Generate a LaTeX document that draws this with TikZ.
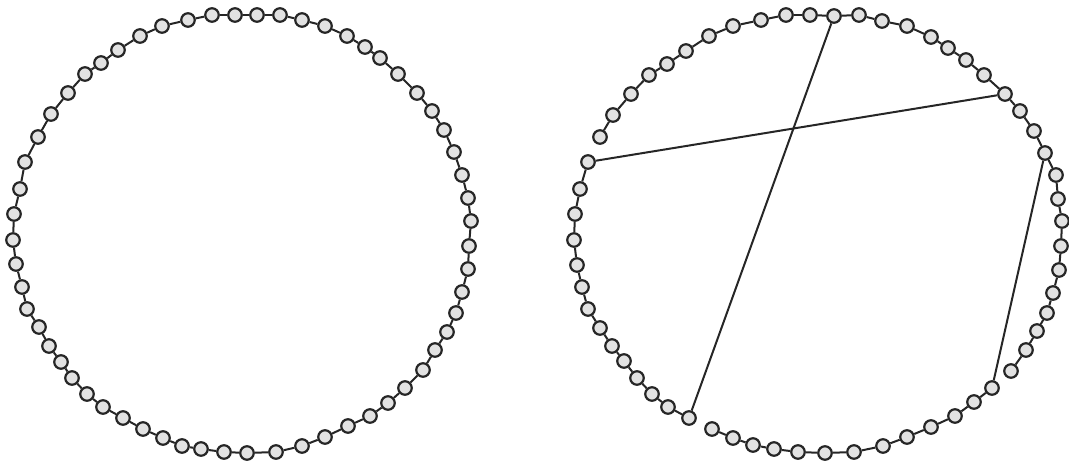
\documentclass[tikz,border=0pt]{standalone}
\usepackage{tikz}
\definecolor{Ink}{HTML}{262626}
\definecolor{Bead}{HTML}{E2E2E2}
\tikzset{
  bead/.style={circle,draw=Ink,fill=Bead,line width=2.2pt,minimum size=13.5pt,inner sep=0pt},
  link/.style={draw=Ink,line width=2pt},
  chord/.style={draw=Ink,line width=2pt}
}

\begin{document}
\begin{tikzpicture}[x=1pt,y=-1pt]
  \useasboundingbox (0,0) rectangle (1069,464);

  % left ring: closed chain of beads
  \foreach \x/\y [count=\i] in {212/15,235/15,257/15,280/15,302/20,325/26,347/36,365/47,380/58,398/74,
      417/93,432/111,444/130,454/152,462/175,468/198,471/221,469/246,468/269,462/292,
      456/313,447/332,435/350,423/370,405/388,388/403,370/416,348/426,325/437,302/446,
      276/452,247/453,224/452,201/449,182/446,163/438,143/429,123/418,103/407,87/394,
      72/378,61/362,49/346,39/327,27/309,22/287,16/264,13/240,14/214,20/189,
      25/162,38/137,51/114,68/93,85/74,101/63,118/50,140/36,162/26,188/20}
    \node[bead] (l\i) at (\x,\y) {};
  \foreach \i [evaluate=\i as \j using {int(mod(\i,60)+1)}] in {1,...,60}
    \draw[link] (l\i) -- (l\j);

  % right ring: same chain, cut in three places and reconnected
  \foreach \x/\y [count=\i] in {786/15,810/15,834/16,859/15,882/21,907/26,931/37,948/48,966/60,984/75,
      1005/94,1020/111,1034/131,1045/153,1056/175,1058/199,1062/221,1061/246,1059/270,1053/293,
      1047/313,1037/331,1026/350,1011/371,992/388,974/402,955/416,931/427,907/437,883/446,
      854/452,825/453,798/452,774/449,753/445,733/438,712/429,689/418,668/407,652/394,
      637/378,624/361,612/346,600/328,588/309,582/287,577/265,574/240,575/214,580/189,
      588/162,600/137,613/115,631/94,649/75,667/64,686/51,709/36,733/26,761/20}
    \node[bead] (r\i) at (\x,\y) {};
  \foreach \a/\b in {1/23,25/36,38/50,52/59}
    \foreach \i in {\a,...,\b} {
      \pgfmathtruncatemacro\j{\i+1}
      \draw[link] (r\i) -- (r\j);
    }
  \draw[link] (r60) -- (r1);

  \draw[chord] (r3) -- (r38);
  \draw[chord] (r11) -- (r51);
  \draw[chord] (r14) -- (r25);
\end{tikzpicture}
\end{document}
